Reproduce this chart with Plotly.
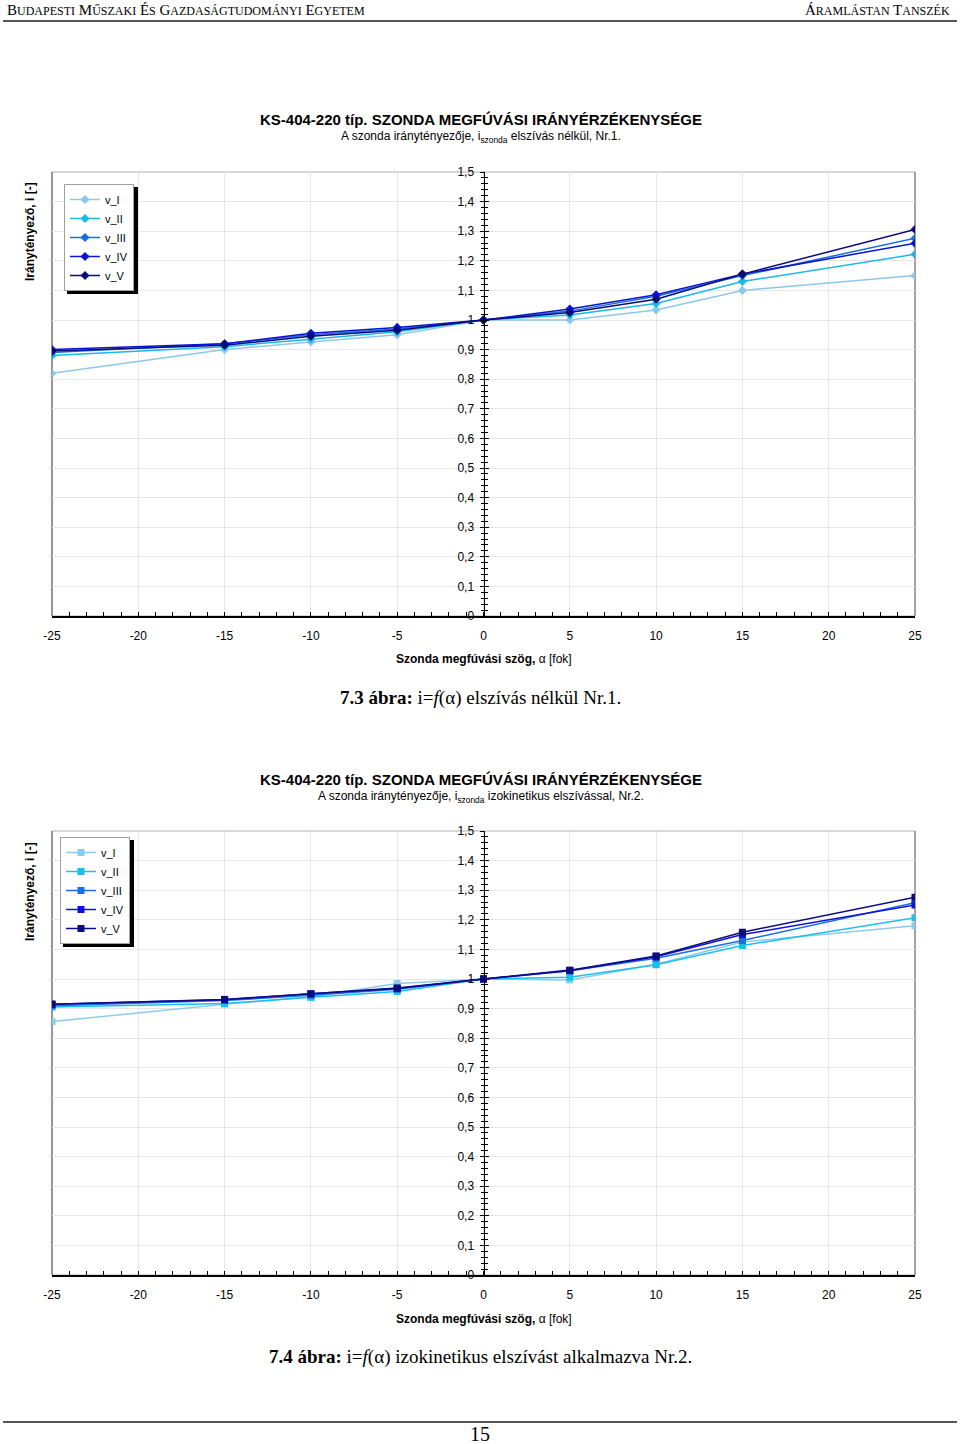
import plotly.graph_objects as go

W, H = 960, 1444

alpha = [-25, -15, -10, -5, 0, 5, 10, 15, 25]
series_names = ["v_I", "v_II", "v_III", "v_IV", "v_V"]

nr1_v_I = [0.82, 0.90, 0.926, 0.95, 1.0, 1.0, 1.034, 1.10, 1.15]
nr1_v_II = [0.88, 0.91, 0.935, 0.96, 1.0, 1.017, 1.056, 1.13, 1.222]
nr1_v_III = [0.89, 0.92, 0.95, 0.97, 1.0, 1.03, 1.08, 1.15, 1.276]
nr1_v_IV = [0.90, 0.92, 0.955, 0.975, 1.0, 1.037, 1.085, 1.155, 1.259]
nr1_v_V = [0.895, 0.915, 0.945, 0.965, 1.0, 1.025, 1.07, 1.155, 1.306]

nr2_v_I = [0.856, 0.915, 0.94, 0.985, 1.0, 0.997, 1.05, 1.125, 1.18]
nr2_v_II = [0.905, 0.917, 0.938, 0.958, 1.0, 1.006, 1.048, 1.113, 1.207]
nr2_v_III = [0.91, 0.927, 0.945, 0.965, 1.0, 1.028, 1.07, 1.13, 1.258]
nr2_v_IV = [0.915, 0.93, 0.95, 0.968, 1.0, 1.028, 1.075, 1.15, 1.25]
nr2_v_V = [0.915, 0.931, 0.95, 0.97, 1.0, 1.03, 1.078, 1.158, 1.276]

y_ticks = [0, 0.1, 0.2, 0.3, 0.4, 0.5, 0.6, 0.7, 0.8, 0.9, 1, 1.1, 1.2, 1.3, 1.4, 1.5]
y_ticktext = ["0", "0,1", "0,2", "0,3", "0,4", "0,5", "0,6", "0,7", "0,8", "0,9",
              "1", "1,1", "1,2", "1,3", "1,4", "1,5"]
x_ticks = [-25, -20, -15, -10, -5, 0, 5, 10, 15, 20, 25]
x_ticktext = ["-25", "-20", "-15", "-10", "-5", "0", "5", "10", "15", "20", "25"]

colors1 = ["#8cc8ec", "#1ab8e8", "#1a6fe0", "#0a14d4", "#0a0a78"]
colors2 = ["#8ccaf0", "#19c0ec", "#1c6ee4", "#1010e0", "#0c0c80"]

nr1 = [nr1_v_I, nr1_v_II, nr1_v_III, nr1_v_IV, nr1_v_V]
nr2 = [nr2_v_I, nr2_v_II, nr2_v_III, nr2_v_IV, nr2_v_V]

SANS = "Liberation Sans, Arial, sans-serif"
SERIF = "Liberation Serif, Times New Roman, serif"


def px_x(p):
    return p / W


def px_y(p):
    return 1 - p / H


fig = go.Figure()

for name, ys, c in zip(series_names, nr1, colors1):
    fig.add_trace(go.Scatter(x=alpha, y=ys, name=name, mode="lines+markers",
                             line=dict(color=c, width=1.5),
                             marker=dict(symbol="diamond", size=7, color=c),
                             xaxis="x", yaxis="y", legend="legend"))
for name, ys, c in zip(series_names, nr2, colors2):
    fig.add_trace(go.Scatter(x=alpha, y=ys, name=name, mode="lines+markers",
                             line=dict(color=c, width=1.5),
                             marker=dict(symbol="square", size=7, color=c),
                             xaxis="x2", yaxis="y2", legend="legend2"))
# hosts for the tick-crossing overlay axes
fig.add_trace(go.Scatter(x=[None], y=[None], xaxis="x", yaxis="y3", showlegend=False,
                         hoverinfo="skip"))
fig.add_trace(go.Scatter(x=[None], y=[None], xaxis="x2", yaxis="y4", showlegend=False,
                         hoverinfo="skip"))

xdom = [px_x(52), px_x(915)]
ydom1 = [px_y(616), px_y(172)]
ydom2 = [px_y(1275), px_y(831)]
ypos = px_x(483.5)


def xaxis_def(anchor):
    return dict(domain=xdom, anchor=anchor, range=[-25, 25], automargin=False,
                tickmode="array", tickvals=x_ticks, ticktext=x_ticktext,
                ticks="inside", ticklen=4, tickcolor="black", tickwidth=1,
                minor=dict(dtick=1, tick0=0, ticks="inside", ticklen=4, tickcolor="black",
                           tickwidth=1, showgrid=False),
                showline=True, linecolor="black", linewidth=1.5,
                showgrid=True, gridcolor="#e6e6e6", gridwidth=1,
                zeroline=False, ticklabelstandoff=8,
                tickfont=dict(family=SANS, size=12, color="black"))


def yaxis_main(dom):
    return dict(domain=dom, anchor="free", position=ypos, range=[0, 1.5], automargin=False,
                tickmode="array", tickvals=y_ticks, ticktext=y_ticktext,
                ticks="outside", ticklen=4, tickcolor="black", tickwidth=1,
                minor=dict(dtick=0.02, tick0=0, ticks="outside", ticklen=3, tickcolor="black",
                           tickwidth=1, showgrid=False),
                showline=True, linecolor="black", linewidth=1,
                showgrid=True, gridcolor="#e6e6e6", gridwidth=1, zeroline=False,
                ticklabelstandoff=3,
                tickfont=dict(family=SANS, size=12, color="black"))


def yaxis_over(dom, over):
    return dict(domain=dom, anchor="free", position=ypos, range=[0, 1.5], overlaying=over,
                automargin=False,
                tickmode="array", tickvals=y_ticks,
                ticks="inside", ticklen=4, tickcolor="black", tickwidth=1,
                minor=dict(dtick=0.02, tick0=0, ticks="inside", ticklen=3, tickcolor="black",
                           tickwidth=1, showgrid=False),
                showline=False, showgrid=False, zeroline=False, showticklabels=False)


shapes = []
annotations = []

for yref in ["y", "y2"]:
    xref = "x" if yref == "y" else "x2"
    shapes.append(dict(type="rect", xref=xref + " domain", yref=yref + " domain",
                       x0=0, x1=1, y0=0, y1=1, line=dict(color="#b0b0b0", width=1),
                       layer="below"))
    shapes.append(dict(type="line", xref=xref + " domain", yref=yref + " domain",
                       x0=0, x1=0, y0=0, y1=1, line=dict(color="#808080", width=1.5),
                       layer="below"))
    shapes.append(dict(type="line", xref=xref + " domain", yref=yref + " domain",
                       x0=1, x1=1, y0=0, y1=1, line=dict(color="#909090", width=1.5),
                       layer="below"))

# legend shadows
for (lx0, ly0, lx1, ly1) in [(64, 184, 135, 291), (60, 837, 131, 944)]:
    shapes.append(dict(type="rect", xref="paper", yref="paper",
                       x0=px_x(lx0 + 3), x1=px_x(lx1 + 3), y0=px_y(ly1 + 3), y1=px_y(ly0 + 3),
                       fillcolor="black", line=dict(width=0), layer="above"))

# header and footer rules
shapes.append(dict(type="line", xref="paper", yref="paper", x0=px_x(3), x1=px_x(957),
                   y0=px_y(21), y1=px_y(21), line=dict(color="#555555", width=2)))
shapes.append(dict(type="line", xref="paper", yref="paper", x0=px_x(3), x1=px_x(957),
                   y0=px_y(1422), y1=px_y(1422), line=dict(color="#555555", width=2)))


def ann(text, x, y, size, family=SANS, xanchor="center", angle=0):
    annotations.append(dict(text=text, x=px_x(x), y=px_y(y), xref="paper", yref="paper",
                            xanchor=xanchor, yanchor="middle", showarrow=False,
                            textangle=angle,
                            font=dict(family=family, size=size, color="black")))


def sc(word, small=12):
    return word[0] + '<span style="font-size:%spx">%s</span>' % (small, word[1:])


header_left = " ".join(sc(w) for w in ["BUDAPESTI", "MŰSZAKI", "ÉS", "GAZDASÁG"]) + \
    '<span style="font-size:12px">TUDOMÁNYI</span> ' + sc("EGYETEM")
header_right = " ".join(sc(w) for w in ["ÁRAMLÁSTAN", "TANSZÉK"])
ann(header_left, 5, 10, 15, SERIF, xanchor="left")
ann(header_right, 952, 10, 15, SERIF, xanchor="right")

title = "<b>KS-404-220 típ. SZONDA MEGFÚVÁSI IRÁNYÉRZÉKENYSÉGE</b>"
ann(title, 481, 120, 15)
ann("A szonda iránytényezője, i<sub>szonda</sub> elszívás nélkül, Nr.1.", 481, 137, 12)
ann(title, 481, 779, 15)
ann("A szonda iránytényezője, i<sub>szonda</sub> izokinetikus elszívással, Nr.2.", 481, 797, 12)

xt = "<b>Szonda megfúvási szög,</b> α [fok]"
ann(xt, 484, 659, 12)
ann(xt, 484, 1319, 12)

yt = "<b>Iránytényező, i [-]</b>"
ann(yt, 30, 232, 12, angle=-90)
ann(yt, 30, 892, 12, angle=-90)

ann("<b>7.3 ábra:</b> i=<i>f</i>(α) elszívás nélkül Nr.1.", 480, 698, 19, SERIF)
ann("<b>7.4 ábra:</b> i=<i>f</i>(α) izokinetikus elszívást alkalmazva Nr.2.", 480, 1357, 19, SERIF)
ann("15", 480, 1434, 20, SERIF)

legend_common = dict(bgcolor="white", bordercolor="#a0a0a0", borderwidth=1,
                     font=dict(family=SANS, size=11, color="black"),
                     xanchor="left", yanchor="top", tracegroupgap=0,
                     itemwidth=30)

fig.update_layout(
    template="none",
    width=W, height=H,
    margin=dict(l=0, r=0, t=0, b=0, autoexpand=False),
    paper_bgcolor="white", plot_bgcolor="white",
    separators=",.",
    font=dict(family=SANS, color="black"),
    xaxis=xaxis_def("y"),
    xaxis2=xaxis_def("y2"),
    yaxis=yaxis_main(ydom1),
    yaxis2=yaxis_main(ydom2),
    yaxis3=yaxis_over(ydom1, "y"),
    yaxis4=yaxis_over(ydom2, "y2"),
    legend=dict(x=px_x(64), y=px_y(184), **legend_common),
    legend2=dict(x=px_x(60), y=px_y(837), **legend_common),
    shapes=shapes,
    annotations=annotations,
    showlegend=True,
    hovermode=False,
)

fig.write_html("out.html",
               config={"displayModeBar": False, "staticPlot": True},
               post_script="document.body.style.margin='0';document.body.style.padding='0';"
                           "document.body.style.overflow='hidden';")
